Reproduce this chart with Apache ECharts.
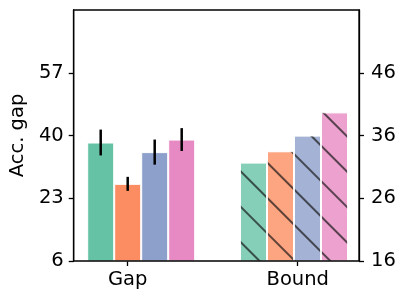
<!DOCTYPE html>
<html>
<head>
<meta charset="utf-8">
<script src="https://cdn.jsdelivr.net/npm/echarts@6/dist/echarts.min.js"></script>
<style>html,body{margin:0;padding:0;background:#fff;}#c{width:407px;height:302px;}</style>
</head>
<body>
<div id="c"></div>
<script>
const categories = ['Gap', 'Bound'];
const seriesNames = ['A', 'B', 'C', 'D'];
const colors = ['#66c2a5', '#fc8d62', '#8da0cb', '#e78ac3'];
const gapValues = [38.1, 26.9, 35.5, 38.9];
const gapErrors = [3.5, 1.9, 3.4, 3.1];
const boundValues = [31.7, 33.5, 36.0, 39.7];
const leftTicks = [6, 23, 40, 57];
const rightTicks = [16, 26, 36, 46];
const leftRange = [6, 74];
const rightRange = [16, 56];

const FONT = 'DejaVu Sans';
const FS = 19.5;
const BAR_W = 27;
const chart = echarts.init(document.getElementById('c'), null, { renderer: 'canvas' });

const series = [];
seriesNames.forEach((n, i) => {
  series.push({
    name: n + ' gap', type: 'bar', xAxisIndex: 1, yAxisIndex: 2,
    barWidth: BAR_W, barGap: '0%',
    data: [gapValues[i], null],
    itemStyle: { color: colors[i], borderColor: '#fff', borderWidth: 1 },
    z: 3
  });
  series.push({
    name: n + ' bound', type: 'bar', xAxisIndex: 2, yAxisIndex: 3,
    barWidth: BAR_W, barGap: '0%',
    data: [null, boundValues[i]],
    itemStyle: {
      color: colors[i], opacity: 0.8, borderColor: '#fff', borderWidth: 1,
      decal: {
        symbol: 'rect', symbolSize: 1, dashArrayX: [1, 0], dashArrayY: [1.8, 23],
        rotation: Math.PI / 4, color: 'rgba(20,20,20,0.85)', backgroundColor: null
      }
    },
    z: 3
  });
});
// error bars
series.push({
  type: 'custom', xAxisIndex: 1, yAxisIndex: 2, z: 5,
  data: gapValues.map((v, i) => [0, v - gapErrors[i], v + gapErrors[i], i]),
  renderItem: function (params, api) {
    const p1 = api.coord([api.value(0), api.value(1)]);
    const p2 = api.coord([api.value(0), api.value(2)]);
    const off = (api.value(3) - 1.5) * BAR_W;
    return {
      type: 'line',
      shape: { x1: p1[0] + off, y1: p1[1], x2: p2[0] + off, y2: p2[1] },
      style: { stroke: '#000', lineWidth: 2.5 }
    };
  }
});

const tickStyle = { show: true, inside: false, length: 5, lineStyle: { color: '#000', width: 1.3 } };
const labelStyle = { color: '#000', fontFamily: FONT, fontSize: FS };

chart.setOption({
  animation: false,
  backgroundColor: '#fff',
  grid: [
    { left: 73, right: 48, top: 10, bottom: 41, show: true, borderColor: '#000', borderWidth: 1.3, backgroundColor: 'transparent', z: 10 },
    { left: 64.8, right: 36.6, top: 10, bottom: 41 },
    { left: 42.7, right: 24.3, top: 10, bottom: 41 }
  ],
  xAxis: [
    { gridIndex: 0, type: 'value', show: false, min: 0, max: 1 },
    { gridIndex: 1, type: 'category', data: categories, show: false },
    { gridIndex: 1, type: 'category', data: categories, show: false },
    { gridIndex: 2, type: 'category', data: categories,
      axisLine: { show: false }, axisTick: Object.assign({ alignWithLabel: true }, tickStyle),
      axisLabel: Object.assign({ margin: 9 }, labelStyle), splitLine: { show: false } }
  ],
  yAxis: [
    { gridIndex: 0, type: 'value', position: 'left', min: leftRange[0], max: leftRange[1],
      axisLine: { show: true, lineStyle: { color: '#000', width: 1.3 } },
      axisTick: Object.assign({ customValues: leftTicks }, tickStyle),
      axisLabel: Object.assign({ margin: 10, customValues: leftTicks }, labelStyle), splitLine: { show: false },
      name: 'Acc. gap', nameLocation: 'middle', nameGap: 43, nameRotate: 90,
      nameTextStyle: { color: '#000', fontFamily: FONT, fontSize: FS } },
    { gridIndex: 0, type: 'value', position: 'right', min: rightRange[0], max: rightRange[1],
      axisLine: { show: true, lineStyle: { color: '#000', width: 1.3 } },
      axisTick: Object.assign({ customValues: rightTicks }, tickStyle),
      axisLabel: Object.assign({ margin: 12, customValues: rightTicks }, labelStyle), splitLine: { show: false } },
    { gridIndex: 1, type: 'value', min: leftRange[0], max: leftRange[1], show: false },
    { gridIndex: 1, type: 'value', min: rightRange[0], max: rightRange[1], show: false },
    { gridIndex: 2, type: 'value', show: false }
  ],
  series: series
});
</script>
</body>
</html>
